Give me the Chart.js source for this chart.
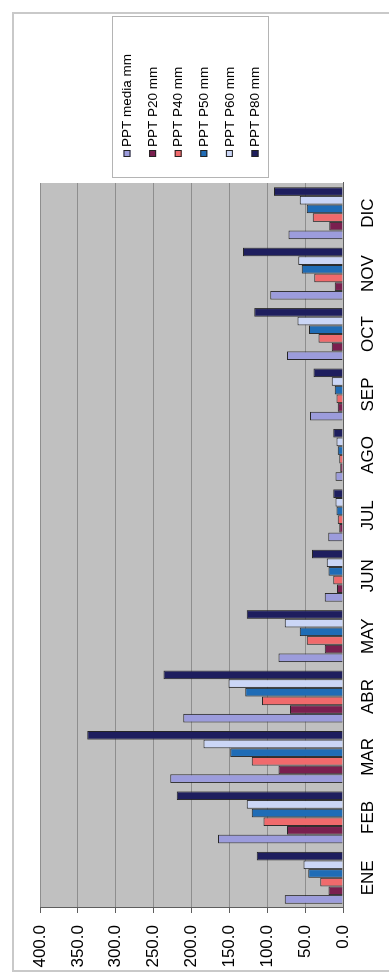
<!DOCTYPE html>
<html>
<head>
<meta charset="utf-8">
<script src="https://cdn.jsdelivr.net/npm/chart.js@4"></script>
<style>
  html, body { margin: 0; padding: 0; background: #ffffff; }
  body { width: 389px; height: 974px; overflow: hidden; position: relative; }
  /* the chart is laid out landscape and turned a quarter turn counter-clockwise */
  #turn {
    position: absolute; left: 0; top: 0;
    width: 974px; height: 389px;
    transform-origin: 0 0;
    transform: translate(0, 974px) rotate(-90deg);
  }
  #frame {
    position: absolute; left: 2px; top: 12px; width: 960px; height: 380px;
    border: 2px solid #c9c9c9; box-sizing: border-box;
  }
  canvas { position: absolute; left: 0; top: 0; }
</style>
</head>
<body>
<div id="turn">
  <div id="frame"></div>
  <canvas id="chart" width="974" height="389"></canvas>
</div>
<script>
// Monthly precipitation (mm): mean and percentiles
const months = ['ENE', 'FEB', 'MAR', 'ABR', 'MAY', 'JUN', 'JUL', 'AGO', 'SEP', 'OCT', 'NOV', 'DIC'];
const seriesNames = ['PPT media mm', 'PPT P20 mm', 'PPT P40 mm', 'PPT P50 mm', 'PPT P60 mm', 'PPT P80 mm'];
const pptMedia = [77, 165, 228, 211, 85, 24, 19.5, 10, 43.5, 74, 96, 72];
const pptP20   = [19, 74, 85, 70, 24, 8, 5, 3.5, 7, 15, 11, 18];
const pptP40   = [30, 105, 120.5, 107, 48, 13, 7, 5, 8.5, 32.5, 38, 40];
const pptP50   = [46, 120.5, 149, 129, 57, 19, 8.5, 7, 11, 45, 54.5, 48];
const pptP60   = [52, 127, 184, 151, 77, 21.5, 10, 8.5, 15, 60, 59, 57];
const pptP80   = [114, 219.5, 337.5, 237, 127, 41, 13, 13, 39, 117, 132, 91];
const valueTicks = [0, 50, 100, 150, 200, 250, 300, 350, 400];

const seriesValues = [pptMedia, pptP20, pptP40, pptP50, pptP60, pptP80];
const seriesColors = ['#9c9cdc', '#7a1f4f', '#f06a6c', '#1f6cb6', '#cbd6f6', '#1e1e5e'];

const FONT = "'Liberation Sans', Arial, sans-serif";

// gray plot background
const plotBackground = {
  id: 'plotBackground',
  beforeDraw(chart) {
    const { ctx, chartArea: a } = chart;
    ctx.save();
    ctx.fillStyle = '#c0c0c0';
    ctx.fillRect(a.left, a.top, a.right - a.left, a.bottom - a.top);
    ctx.restore();
  }
};

// boxed legend listing the series to the right of the plot
const boxedLegend = {
  id: 'boxedLegend',
  afterDraw(chart) {
    const { ctx } = chart;
    const box = { x: 796, y: 112, w: 161, h: 156 };
    ctx.save();
    ctx.strokeStyle = '#b4b4b4';
    ctx.lineWidth = 1;
    ctx.strokeRect(box.x + 0.5, box.y + 0.5, box.w, box.h);
    ctx.font = '13.5px ' + FONT;
    ctx.textBaseline = 'middle';
    ctx.textAlign = 'left';
    chart.data.datasets.forEach((ds, i) => {
      const y = 127 + i * 25.6;
      ctx.fillStyle = ds.backgroundColor;
      ctx.fillRect(817, y - 3.5, 7, 7);
      ctx.strokeStyle = '#222';
      ctx.strokeRect(817.5, y - 3, 6, 6);
      ctx.fillStyle = '#000';
      ctx.fillText(ds.label, 827, y + 0.5);
    });
    ctx.restore();
  }
};

new Chart(document.getElementById('chart'), {
  type: 'bar',
  data: {
    labels: months,
    datasets: seriesNames.map((name, i) => ({
      label: name,
      data: seriesValues[i],
      backgroundColor: seriesColors[i],
      borderColor: '#262626',
      borderWidth: 1,
      categoryPercentage: 0.86,
      barPercentage: 1.0
    }))
  },
  options: {
    responsive: false,
    animation: false,
    devicePixelRatio: 1,
    layout: { padding: { left: 0, right: 183, top: 40, bottom: 0 } },
    plugins: {
      legend: { display: false },
      tooltip: { enabled: false }
    },
    scales: {
      x: {
        grid: { display: false, drawTicks: false },
        border: { display: true, color: '#5e5e5e', width: 1 },
        ticks: {
          color: '#000',
          font: { family: FONT, size: 17 },
          padding: 15,
          maxRotation: 0,
          minRotation: 0
        },
        afterFit(scale) { scale.height = 46; }
      },
      y: {
        min: 0,
        max: 400,
        afterBuildTicks(scale) { scale.ticks = valueTicks.map(v => ({ value: v })); },
        grid: { color: '#8e8e8e', lineWidth: 1, tickLength: 5, tickColor: '#5e5e5e' },
        border: { display: true, color: '#5e5e5e', width: 1 },
        ticks: {
          color: '#000',
          font: { family: FONT, size: 17 },
          padding: 12,
          callback: v => Number(v).toFixed(1)
        },
        afterFit(scale) { scale.width = 66; }
      }
    }
  },
  plugins: [plotBackground, boxedLegend]
});
</script>
</body>
</html>
